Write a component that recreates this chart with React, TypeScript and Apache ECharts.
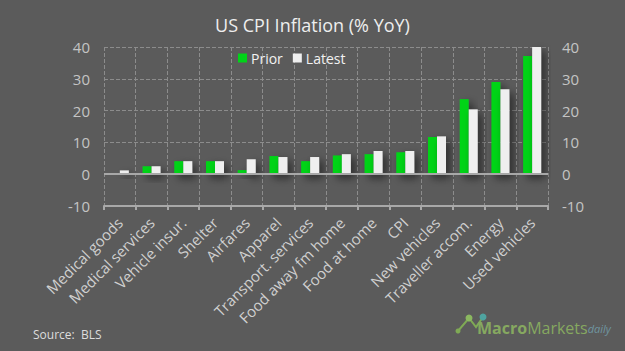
import React, { useEffect, useRef } from "react";
import * as echarts from "echarts";

const categories = [
  "Medical goods",
  "Medical services",
  "Vehicle insur.",
  "Shelter",
  "Airfares",
  "Apparel",
  "Transport. services",
  "Food away fm home",
  "Food at home",
  "CPI",
  "New vehicles",
  "Traveller accom.",
  "Energy",
  "Used vehicles",
];
const prior = [0, 2.5, 4.1, 4.1, 1.3, 5.7, 4.1, 5.9, 6.3, 6.9, 11.7, 23.6, 29.0, 37.2];
const latest = [1.2, 2.5, 4.1, 4.1, 4.7, 5.4, 5.4, 6.3, 7.3, 7.3, 11.9, 20.4, 26.7, 40.0];
const seriesNames = ["Prior", "Latest"];
const yMin = -10;
const yMax = 40;
const yStep = 10;

const FONT = "'Open Sans', 'Noto Sans', sans-serif";
const BG = "#5b5b5b";
const GREEN = "#00d418";
const WHITE = "#efefef";
const AXIS_LABEL = "#c4c4c4";
const GRIDLINE = "#8c8c8c";

export default function App() {
  const ref = useRef<HTMLDivElement>(null);
  useEffect(() => {
    if (!ref.current) return;
    document.body.style.margin = "0";
    const chart = echarts.init(ref.current, undefined, { renderer: "svg" });
    const shadow = {
      shadowBlur: 8,
      shadowColor: "rgba(0,0,0,0.55)",
      shadowOffsetX: 4,
      shadowOffsetY: 4,
    };
    const yAxisBase = {
      type: "value",
      min: yMin,
      max: yMax,
      interval: yStep,
      axisLine: { show: false },
      axisTick: { show: false },
      axisLabel: { color: AXIS_LABEL, fontSize: 15, fontFamily: FONT, margin: 14 },
    };
    chart.setOption({
      animation: false,
      backgroundColor: BG,
      textStyle: { fontFamily: FONT },
      title: {
        text: "US CPI Inflation (% YoY)",
        left: "center",
        top: 11,
        textStyle: { color: "#eeeeee", fontSize: 18, fontWeight: "normal", fontFamily: FONT },
      },
      legend: {
        data: seriesNames,
        left: 233,
        top: 46,
        itemWidth: 9,
        itemHeight: 9,
        itemGap: 10,
        icon: "rect",
        textStyle: { color: "#f2f2f2", fontSize: 14, fontFamily: FONT, padding: [0, 0, 0, -1] },
      },
      grid: { left: 104, right: 77, top: 47, bottom: 145 },
      xAxis: {
        type: "category",
        data: categories,
        axisLine: { onZero: false, lineStyle: { color: "#a8a8a8", width: 2 } },
        axisTick: { show: true, length: 4, lineStyle: { color: "#a8a8a8", width: 2 } },
        axisLabel: {
          rotate: 45,
          interval: 0,
          color: "#d0d0d0",
          fontSize: 15,
          fontFamily: FONT,
          margin: 14,
        },
        splitLine: { show: true, lineStyle: { color: GRIDLINE, type: "dashed", width: 1 } },
      },
      yAxis: [
        {
          ...yAxisBase,
          position: "left",
          splitLine: { show: true, lineStyle: { color: GRIDLINE, type: "dashed", width: 1 } },
        },
        { ...yAxisBase, position: "right", splitLine: { show: false } },
      ],
      series: [
        {
          name: seriesNames[0],
          type: "bar",
          data: prior,
          barWidth: 9,
          barGap: "0%",
          itemStyle: { color: GREEN, ...shadow },
          markLine: {
            silent: true,
            symbol: "none",
            label: { show: false },
            lineStyle: { color: "#a8a8a8", width: 2, type: "solid" },
            data: [{ yAxis: 0 }],
          },
        },
        {
          name: seriesNames[1],
          type: "bar",
          data: latest,
          barWidth: 9,
          barGap: "0%",
          itemStyle: { color: WHITE, ...shadow },
        },
      ],
      graphic: [
        {
          type: "text",
          left: 33,
          top: 328,
          style: { text: "Source:  BLS", fill: "#dddddd", fontSize: 12, fontFamily: FONT },
        },
        {
          type: "polyline",
          shape: { points: [[458, 331], [469, 318], [476, 327], [483, 317]] },
          style: { stroke: "#7faa55", lineWidth: 2, fill: "none" },
        },
        { type: "circle", shape: { cx: 458, cy: 331, r: 2.5 }, style: { fill: "#7faa55" } },
        { type: "circle", shape: { cx: 469, cy: 318, r: 3.5 }, style: { fill: "#8bb860" } },
        { type: "circle", shape: { cx: 483, cy: 317, r: 3.5 }, style: { fill: "#4fa3a0" } },
        {
          type: "text",
          left: 477,
          top: 320,
          style: {
            text: "{a|Macro}{b|Markets}{c|daily}",
            rich: {
              a: { fontSize: 16, fontWeight: "bold", fill: "#86a860", fontFamily: FONT },
              b: { fontSize: 16, fill: "#86a860", fontFamily: FONT },
              c: { fontSize: 11, fontStyle: "italic", fill: "#6f95a0", fontFamily: FONT },
            },
          },
        },
      ],
    });
    return () => chart.dispose();
  }, []);
  return (
    <div
      ref={ref}
      style={{ position: "fixed", left: 0, top: 0, width: 625, height: 351 }}
    />
  );
}
